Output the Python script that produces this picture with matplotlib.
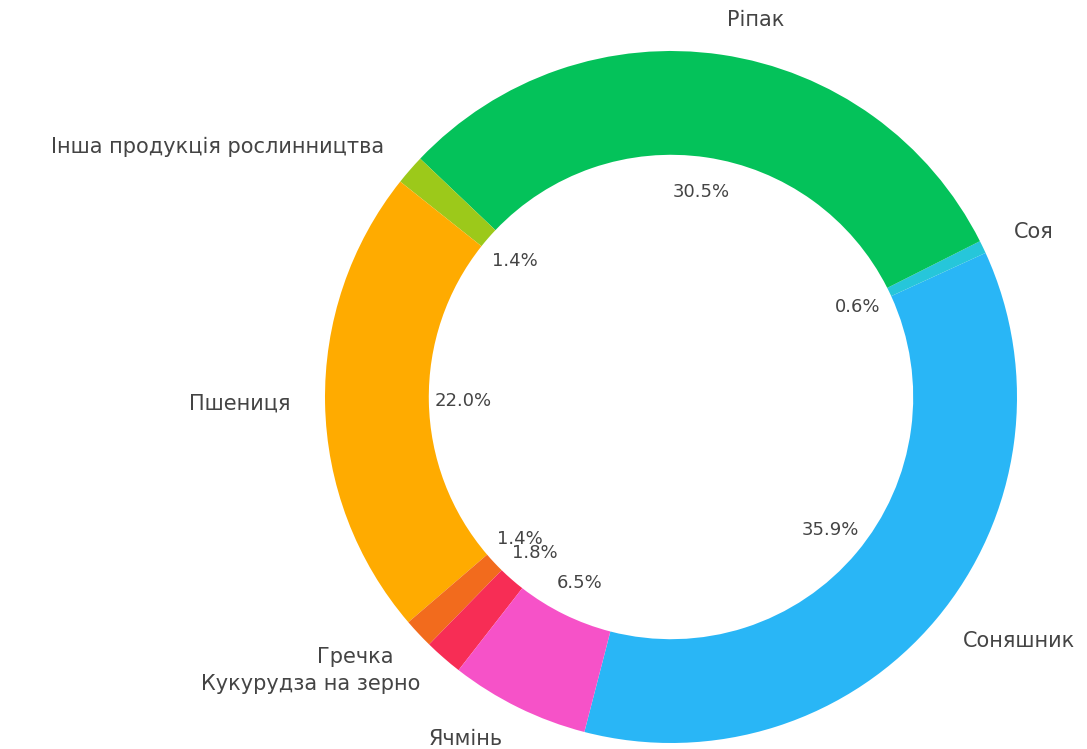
import matplotlib
matplotlib.use('Agg')
import matplotlib.pyplot as plt

# crop shares, counterclockwise from the bottom
labels = ['Соняшник', 'Соя', 'Ріпак', 'Інша продукція рослинництва', 'Пшениця',
          'Гречка', 'Кукурудза на зерно', 'Ячмінь']
shares = [35.9, 0.6, 30.5, 1.4, 22.0, 1.4, 1.8, 6.5]
colors = ['#29B6F6', '#26C6DA', '#04C25A', '#9CC91A', '#FFAB00',
          '#F26B1D', '#F72D55', '#F652C8']

fig = plt.figure(figsize=(10.87, 7.49), dpi=100)
W, H = 1087, 749
cx, cy, r = 671, 352, 346  # pie centre (px from bottom-left) and outer radius
size = 2.5 * r
ax = fig.add_axes([(cx - size / 2) / W, (cy - size / 2) / H, size / W, size / H])

wedges, texts, autotexts = ax.pie(shares, labels=labels, colors=colors, autopct='%1.1f%%',
                                  startangle=-104.5, pctdistance=0.6, labeldistance=1.1,
                                  wedgeprops=dict(width=0.3, linewidth=0),
                                  textprops=dict(color='#444444'))
for t in texts:
    t.set_fontsize(15)
for t in autotexts:
    t.set_fontsize(13)

ax.set_xlim(-1.25, 1.25)
ax.set_ylim(-1.25, 1.25)
ax.set_aspect('equal')
ax.axis('off')

plt.savefig('out.png', dpi=100)
